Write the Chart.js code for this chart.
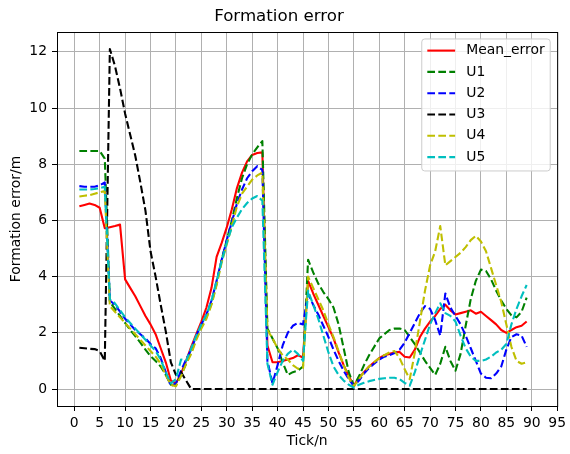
<!DOCTYPE html>
<html><head><meta charset="utf-8">
<script src="https://cdn.jsdelivr.net/npm/chart.js@4.4.0/dist/chart.umd.min.js"></script>
<style>html,body{margin:0;padding:0;background:#fff;}canvas{display:block;}</style>
</head><body>
<canvas id="c" width="570" height="454" style="width:570px;height:454px"></canvas>
<script>
const tickN = [1,2,3,4,5,6,7,8,9,10,11,12,13,14,15,16,17,18,19,20,21,22,23,24,25,26,27,28,29,30,31,32,33,34,35,36,37,38,39,40,41,42,43,44,45,46,47,48,49,50,51,52,53,54,55,56,57,58,59,60,61,62,63,64,65,66,67,68,69,70,71,72,73,74,75,76,77,78,79,80,81,82,83,84,85,86,87,88,89];

const meanError = [6.5,6.55,6.6,6.55,6.45,5.72,5.76,5.8,5.85,3.9,
3.6,3.3,2.95,2.6,2.3,1.95,1.45,0.95,0.3,0.2,
0.55,1.0,1.5,1.95,2.4,2.9,3.6,4.7,5.2,5.75,
6.4,7.15,7.7,8.1,8.33,8.4,8.42,1.55,0.95,0.95,
1.0,1.05,1.1,1.2,1.12,3.85,3.4,3.0,2.6,2.2,
1.8,1.3,0.85,0.45,0.12,0.4,0.6,0.8,0.95,1.1,
1.2,1.25,1.3,1.32,1.15,1.12,1.4,1.85,2.15,2.4,
2.6,2.85,3.0,2.8,2.65,2.7,2.75,2.8,2.68,2.75,
2.6,2.45,2.3,2.1,2.0,2.1,2.2,2.25,2.4];

const u1 = [8.47,8.47,8.47,8.47,8.47,8.2,3.1,2.85,2.6,2.35,
2.1,1.88,1.65,1.4,1.17,1.0,0.8,0.5,0.15,0.15,
0.5,0.9,1.3,1.8,2.2,2.55,3.05,3.75,4.6,5.3,
6.0,6.8,7.5,8.0,8.35,8.6,8.82,2.15,1.8,1.45,
0.95,0.5,0.6,0.65,0.8,4.6,4.15,3.75,3.45,3.2,
2.9,2.3,1.45,0.6,0.12,0.45,0.85,1.2,1.5,1.8,
1.95,2.1,2.15,2.15,2.1,1.85,1.6,1.3,1.0,0.75,
0.5,0.9,1.5,1.0,0.65,1.25,2.25,3.2,3.85,4.25,
4.2,3.9,3.5,3.15,2.85,2.62,2.55,2.75,3.25];

const u2 = [7.22,7.2,7.2,7.2,7.25,7.35,3.15,3.0,2.75,2.5,
2.3,2.1,1.95,1.8,1.6,1.45,1.1,0.6,0.1,0.2,
0.65,1.05,1.4,1.9,2.3,2.65,3.15,3.85,4.6,5.3,
5.95,6.6,7.1,7.5,7.75,7.93,7.8,1.0,0.2,0.85,
1.55,2.0,2.25,2.35,2.3,3.4,3.0,2.65,2.25,1.85,
1.4,1.0,0.65,0.35,0.1,0.3,0.55,0.75,0.9,1.05,
1.15,1.2,1.28,1.4,1.65,2.0,2.35,2.7,2.95,2.85,
2.45,1.9,3.4,2.9,2.6,2.3,1.9,1.45,1.0,0.55,
0.4,0.38,0.55,0.8,1.4,1.85,1.95,1.9,1.5];

const u3 = [1.47,1.45,1.43,1.42,1.35,1.0,12.1,11.5,10.7,9.8,
9.05,8.3,7.35,6.35,4.9,4.0,3.0,2.05,0.95,0.5,
0.6,0.3,0,0,0,0,0,0,0,0,
0,0,0,0,0,0,0,0,0,0,
0,0,0,0,0,0,0,0,0,0,
0,0,0,0,0,0,0,0,0,0,
0,0,0,0,0,0,0,0,0,0,
0,0,0,0,0,0,0,0,0,0,
0,0,0,0,0,0,0,0,0];

const u4 = [6.85,6.88,6.9,6.95,7.0,7.05,2.95,2.75,2.55,2.35,
2.15,1.95,1.75,1.55,1.35,1.15,0.9,0.5,0.15,0.1,
0.45,0.9,1.25,1.75,2.15,2.5,3.0,3.7,4.5,5.15,
5.8,6.5,6.95,7.2,7.45,7.6,7.7,2.1,1.8,1.45,
1.2,1.05,0.85,0.72,0.75,4.0,3.6,3.2,2.8,2.3,
1.85,1.35,0.85,0.4,0.1,0.35,0.6,0.8,0.95,1.1,
1.2,1.3,1.35,1.1,0.7,0.35,1.3,2.4,3.5,4.4,
4.9,5.8,4.4,4.55,4.7,4.85,5.05,5.3,5.45,5.25,
4.9,4.3,3.7,3.1,2.3,1.5,1.0,0.9,0.95];

const u5 = [7.1,7.1,7.1,7.12,7.15,7.2,3.2,3.05,2.8,2.55,
2.35,2.15,1.95,1.75,1.55,1.35,1.05,0.6,0.2,0.35,
1.05,1.0,1.45,1.9,2.3,2.65,3.15,3.85,4.55,5.2,
5.75,6.1,6.4,6.62,6.78,6.87,6.7,0.9,0.15,0.6,
1.0,1.25,1.4,1.25,1.0,3.5,3.0,2.5,1.9,1.3,
0.8,0.5,0.3,0.15,0.05,0.15,0.22,0.28,0.32,0.36,
0.38,0.4,0.4,0.35,0.22,0.12,0.6,1.2,1.75,2.3,
2.7,3.05,2.7,2.6,2.4,1.9,1.45,1.15,1.0,1.0,
1.05,1.15,1.3,1.4,1.6,2.3,2.85,3.3,3.7];

const seriesLabels = ['Mean_error','U1','U2','U3','U4','U5'];
const xTicks = [0,5,10,15,20,25,30,35,40,45,50,55,60,65,70,75,80,85,90,95];
const yTicks = [0,2,4,6,8,10,12];

Chart.defaults.font.family = '"DejaVu Sans"';
Chart.defaults.color = '#000';

function mkds(label, vals, color, dashed, order) {
  return {
    label: label,
    data: tickN.map((x, i) => ({x: x, y: vals[i]})),
    borderColor: color, backgroundColor: color,
    borderWidth: 2.1,
    borderDash: dashed ? [7.7, 3.3] : [],
    borderCapStyle: 'butt', borderJoinStyle: 'round',
    pointRadius: 0, pointHoverRadius: 0, tension: 0, fill: false,
    order: order
  };
}

const framePlugin = {
  id: 'frame',
  afterDatasetsDraw(chart) {
    const {ctx, chartArea: a} = chart;
    ctx.save();
    ctx.strokeStyle = '#000';
    ctx.lineWidth = 1;
    ctx.setLineDash([]);
    ctx.strokeRect(a.left + 0.5, a.top + 0.5, a.right - a.left, a.bottom - a.top);
    ctx.restore();
  }
};

const legendPlugin = {
  id: 'innerLegend',
  afterDraw(chart) {
    const {ctx, chartArea: a} = chart;
    const fs = 13.9;
    ctx.save();
    ctx.font = fs + 'px "DejaVu Sans"';
    const ds = chart.data.datasets;
    let tw = 0;
    ds.forEach(d => { tw = Math.max(tw, ctx.measureText(d.label).width); });
    const pad = 0.4 * fs, hl = 2 * fs, htp = 0.8 * fs, rowH = 21.3;
    const w = 2 * pad + hl + htp + tw;
    const h = 132;
    const right = a.right - 0.5 * fs;
    const top = a.top + 0.5 * fs;
    const left = right - w;
    const r = 3;
    ctx.beginPath();
    ctx.moveTo(left + r, top);
    ctx.lineTo(right - r, top);
    ctx.arcTo(right, top, right, top + r, r);
    ctx.lineTo(right, top + h - r);
    ctx.arcTo(right, top + h, right - r, top + h, r);
    ctx.lineTo(left + r, top + h);
    ctx.arcTo(left, top + h, left, top + h - r, r);
    ctx.lineTo(left, top + r);
    ctx.arcTo(left, top, left + r, top, r);
    ctx.closePath();
    ctx.fillStyle = 'rgba(255,255,255,0.8)';
    ctx.fill();
    ctx.strokeStyle = '#cccccc';
    ctx.lineWidth = 1;
    ctx.stroke();
    ds.forEach((d, i) => {
      const y = top + 11.65 + i * rowH;
      ctx.beginPath();
      ctx.setLineDash(d.borderDash || []);
      ctx.lineCap = 'butt';
      ctx.strokeStyle = d.borderColor;
      ctx.lineWidth = d.borderWidth;
      ctx.moveTo(left + pad, y);
      ctx.lineTo(left + pad + hl, y);
      ctx.stroke();
      ctx.setLineDash([]);
      ctx.fillStyle = '#000';
      ctx.textBaseline = 'middle';
      ctx.textAlign = 'left';
      ctx.fillText(d.label, left + pad + hl + htp, y);
    });
    ctx.restore();
  }
};

const gridOpts = { color: '#b0b0b0', lineWidth: 1, tickColor: '#000', tickLength: 5, tickWidth: 1, drawTicks: true };

new Chart(document.getElementById('c'), {
  type: 'line',
  data: {
    datasets: [
      mkds(seriesLabels[0], meanError, '#ff0000', false, 5),
      mkds(seriesLabels[1], u1, '#008000', true, 4),
      mkds(seriesLabels[2], u2, '#0000ff', true, 3),
      mkds(seriesLabels[3], u3, '#000000', true, 2),
      mkds(seriesLabels[4], u4, '#bfbf00', true, 1),
      mkds(seriesLabels[5], u5, '#00bfbf', true, 0)
    ]
  },
  options: {
    responsive: false,
    animation: false,
    devicePixelRatio: 1,
    layout: { padding: { left: 0, right: 12, top: 0, bottom: 0 } },
    plugins: {
      legend: { display: false },
      tooltip: { enabled: false },
      title: { display: true, text: 'Formation error', color: '#000',
               font: { size: 16.67, weight: 'normal' }, padding: { top: 6.5, bottom: 5.5 } }
    },
    scales: {
      x: {
        type: 'linear', min: -3.4, max: 95,
        afterBuildTicks: s => { s.ticks = xTicks.map(v => ({value: v})); },
        afterFit: s => { s.height = 48; },
        grid: gridOpts,
        border: { display: true, color: '#000', width: 1 },
        ticks: { autoSkip: false, maxRotation: 0, minRotation: 0, padding: 4, font: { size: 13.9 }, color: '#000',
                 callback: v => String(v) },
        title: { display: true, text: 'Tick/n', color: '#000', font: { size: 13.9 }, padding: { top: 0, bottom: 4.7 } }
      },
      y: {
        type: 'linear', min: -0.605, max: 12.705,
        afterBuildTicks: s => { s.ticks = yTicks.map(v => ({value: v})); },
        afterFit: s => { s.width = 57; },
        grid: gridOpts,
        border: { display: true, color: '#000', width: 1 },
        ticks: { padding: 5, font: { size: 13.9 }, color: '#000', callback: v => String(v) },
        title: { display: true, text: 'Formation error/m', color: '#000', font: { size: 13.9 }, padding: { top: 7.7, bottom: 0 } }
      }
    }
  },
  plugins: [framePlugin, legendPlugin]
});
</script>
</body></html>
